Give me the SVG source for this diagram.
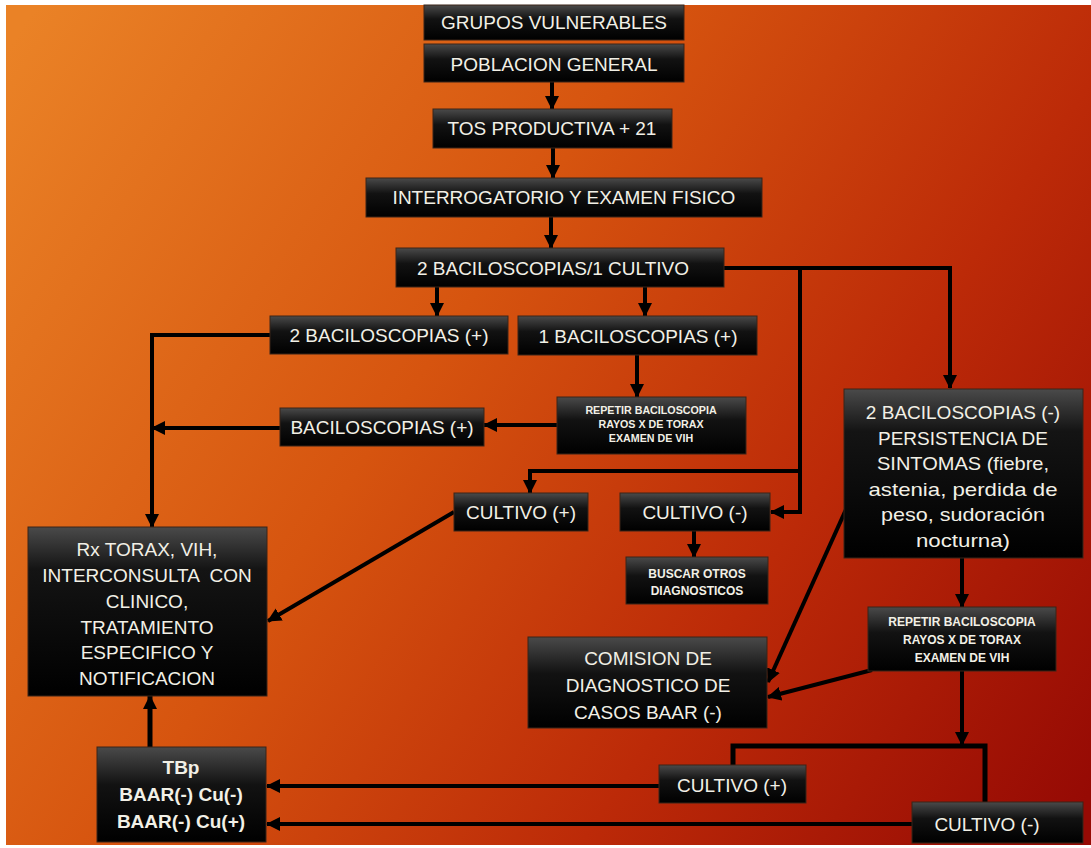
<svg xmlns="http://www.w3.org/2000/svg" width="1091" height="848" viewBox="0 0 1091 848">
  <defs>
    <linearGradient id="bg" gradientUnits="userSpaceOnUse" x1="0" y1="60" x2="1091" y2="790">
      <stop offset="0" stop-color="#EA8226"/>
      <stop offset="0.4" stop-color="#D6540F"/>
      <stop offset="0.7" stop-color="#BC2A08"/>
      <stop offset="1" stop-color="#960A04"/>
    </linearGradient>
    <linearGradient id="boxfill" x1="0" y1="0" x2="0" y2="1">
      <stop offset="0" stop-color="#4a4a4a"/>
      <stop offset="0.4" stop-color="#121212"/>
      <stop offset="1" stop-color="#000000"/>
    </linearGradient>
    <linearGradient id="tallfill" x1="0" y1="0" x2="0" y2="1">
      <stop offset="0" stop-color="#4a4a4a"/>
      <stop offset="0.25" stop-color="#141414"/>
      <stop offset="1" stop-color="#000000"/>
    </linearGradient>
    <marker id="arrow" markerUnits="userSpaceOnUse" markerWidth="14" markerHeight="14" refX="13" refY="7" orient="auto">
      <path d="M0,0 L14,7 L0,14 z" fill="#000"/>
    </marker>
    <filter id="soft" x="-5%" y="-200%" width="110%" height="500%">
      <feGaussianBlur stdDeviation="1.2"/>
    </filter>
  </defs>
  <style>
    .box { fill: url(#boxfill); stroke: #3a2418; stroke-width: 1; }
    .tall { fill: url(#tallfill); stroke: #3a2418; stroke-width: 1; }
    .t { font-family: "Liberation Sans", Arial, sans-serif; fill: #F2F0E6; text-anchor: middle; font-size: 19px; }
    .s { font-family: "Liberation Sans", Arial, sans-serif; fill: #F2F0E6; text-anchor: middle; font-size: 10.7px; font-weight: bold; }
    .s2 { font-family: "Liberation Sans", Arial, sans-serif; fill: #F2F0E6; text-anchor: middle; font-size: 12px; font-weight: bold; }
    .b { font-family: "Liberation Sans", Arial, sans-serif; fill: #F2F0E6; text-anchor: middle; font-size: 19px; font-weight: bold; }
    .c { fill: none; stroke: #000; stroke-width: 4; }
    .k { fill: none; stroke: #000; stroke-width: 5; }
  </style>

  <!-- page and background -->
  <rect x="0" y="0" width="1091" height="848" fill="#ffffff"/>
  <rect x="6" y="5" width="1085" height="840" fill="url(#bg)"/>
  <line x1="957" y1="243" x2="1091" y2="243" stroke="#6a0c02" stroke-width="3" opacity="0.8" filter="url(#soft)"/>

  <!-- connectors -->
  <g id="connectors">
    <path class="c" d="M552,82 V109" marker-end="url(#arrow)"/>
    <path class="c" d="M553,148 V178" marker-end="url(#arrow)"/>
    <path class="c" d="M551,217 V248" marker-end="url(#arrow)"/>
    <path class="c" d="M437,287 V316" marker-end="url(#arrow)"/>
    <path class="c" d="M645,287 V316" marker-end="url(#arrow)"/>
    <path class="c" d="M724,268 H950 V388" marker-end="url(#arrow)"/>
    <path class="c" d="M800,268 V512 H771" marker-end="url(#arrow)"/>
    <path class="c" d="M800,471 H530 V493" marker-end="url(#arrow)"/>
    <path class="c" d="M270,335 H152 V527" marker-end="url(#arrow)"/>
    <path class="c" d="M280,428 H152" marker-end="url(#arrow)"/>
    <path class="c" d="M637,355 V397" marker-end="url(#arrow)"/>
    <path class="c" d="M557,425 H484" marker-end="url(#arrow)"/>
    <path class="c" d="M454,512 L268,621" marker-end="url(#arrow)"/>
    <path class="c" d="M694,531 V557" marker-end="url(#arrow)"/>
    <path class="c" d="M848,505 L768,682" marker-end="url(#arrow)"/>
    <path class="c" d="M962,558 V607" marker-end="url(#arrow)"/>
    <path class="c" d="M872,670 L768,697" marker-end="url(#arrow)"/>
    <path class="c" d="M962,671 V745" marker-end="url(#arrow)"/>
    <path class="k" d="M733,765 V746 H985 V802"/>
    <path class="c" d="M659,786 H267" marker-end="url(#arrow)"/>
    <path class="c" d="M912,824 H267" marker-end="url(#arrow)"/>
    <path class="k" d="M150,747 V696" marker-end="url(#arrow)"/>
  </g>

  <!-- nodes -->
  <g id="grupos">
    <rect class="box" x="424" y="5" width="260" height="35"/>
    <text class="t" x="554" y="29">GRUPOS VULNERABLES</text>
  </g>
  <g id="poblacion">
    <rect class="box" x="424" y="44" width="260" height="38"/>
    <text class="t" x="554" y="71">POBLACION GENERAL</text>
  </g>
  <g id="tos">
    <rect class="box" x="433" y="109" width="239" height="39"/>
    <text class="t" x="552" y="135">TOS PRODUCTIVA + 21</text>
  </g>
  <g id="interrogatorio">
    <rect class="box" x="366" y="178" width="396" height="39"/>
    <text class="t" x="564" y="204">INTERROGATORIO Y EXAMEN FISICO</text>
  </g>
  <g id="baciloscopias-cultivo">
    <rect class="box" x="396" y="248" width="328" height="39"/>
    <text class="t" x="553" y="275">2 BACILOSCOPIAS/1 CULTIVO</text>
  </g>
  <g id="dos-bacilo-pos">
    <rect class="box" x="270" y="316" width="238" height="38"/>
    <text class="t" x="389" y="342">2 BACILOSCOPIAS (+)</text>
  </g>
  <g id="una-bacilo-pos">
    <rect class="box" x="518" y="316" width="239" height="39"/>
    <text class="t" x="638" y="343">1 BACILOSCOPIAS (+)</text>
  </g>
  <g id="bacilo-pos">
    <rect class="box" x="280" y="408" width="204" height="38"/>
    <text class="t" x="382" y="434">BACILOSCOPIAS (+)</text>
  </g>
  <g id="repetir-1">
    <rect class="box" x="557" y="397" width="189" height="57"/>
    <text class="s" x="651" y="414">REPETIR BACILOSCOPIA</text>
    <text class="s" x="651" y="428">RAYOS X DE TORAX</text>
    <text class="s" x="651" y="442">EXAMEN DE VIH</text>
  </g>
  <g id="cultivo-pos-1">
    <rect class="box" x="454" y="493" width="134" height="38"/>
    <text class="t" x="521" y="519">CULTIVO (+)</text>
  </g>
  <g id="cultivo-neg-1">
    <rect class="box" x="620" y="493" width="150" height="38"/>
    <text class="t" x="695" y="519">CULTIVO (-)</text>
  </g>
  <g id="buscar">
    <rect class="box" x="626" y="557" width="142" height="47"/>
    <text class="s2" x="697" y="578">BUSCAR OTROS</text>
    <text class="s2" x="697" y="595">DIAGNOSTICOS</text>
  </g>
  <g id="dos-bacilo-neg">
    <rect class="tall" x="844" y="389" width="239" height="169"/>
    <text class="t" x="963" y="419">2 BACILOSCOPIAS (-)</text>
    <text class="t" x="963" y="445">PERSISTENCIA DE</text>
    <text class="t" x="963" y="470" textLength="172" lengthAdjust="spacingAndGlyphs">SINTOMAS (fiebre,</text>
    <text class="t" x="963" y="496" textLength="189" lengthAdjust="spacingAndGlyphs">astenia, perdida de</text>
    <text class="t" x="963" y="521" textLength="164" lengthAdjust="spacingAndGlyphs">peso, sudoración</text>
    <text class="t" x="963" y="547" textLength="94" lengthAdjust="spacingAndGlyphs">nocturna)</text>
  </g>
  <g id="tratamiento">
    <rect class="tall" x="28" y="527" width="239" height="169"/>
    <text class="t" x="147" y="556">Rx TORAX, VIH,</text>
    <text class="t" x="147" y="582" xml:space="preserve">INTERCONSULTA  CON</text>
    <text class="t" x="147" y="608">CLINICO,</text>
    <text class="t" x="147" y="634">TRATAMIENTO</text>
    <text class="t" x="147" y="659">ESPECIFICO Y</text>
    <text class="t" x="147" y="685">NOTIFICACION</text>
  </g>
  <g id="repetir-2">
    <rect class="box" x="868" y="607" width="188" height="64"/>
    <text class="s2" x="962" y="626">REPETIR BACILOSCOPIA</text>
    <text class="s2" x="962" y="644">RAYOS X DE TORAX</text>
    <text class="s2" x="962" y="662">EXAMEN DE VIH</text>
  </g>
  <g id="comision">
    <rect class="box" x="528" y="637" width="239" height="91"/>
    <text class="t" x="648" y="665">COMISION DE</text>
    <text class="t" x="648" y="692">DIAGNOSTICO DE</text>
    <text class="t" x="648" y="719">CASOS BAAR (-)</text>
  </g>
  <g id="tbp">
    <rect class="box" x="97" y="747" width="169" height="95"/>
    <text class="b" x="181" y="774">TBp</text>
    <text class="b" x="181" y="801">BAAR(-) Cu(-)</text>
    <text class="b" x="181" y="828">BAAR(-) Cu(+)</text>
  </g>
  <g id="cultivo-pos-2">
    <rect class="box" x="659" y="765" width="147" height="38"/>
    <text class="t" x="732" y="792">CULTIVO (+)</text>
  </g>
  <g id="cultivo-neg-2">
    <rect class="box" x="912" y="802" width="171" height="41"/>
    <text class="t" x="987" y="831">CULTIVO (-)</text>
  </g>
</svg>
